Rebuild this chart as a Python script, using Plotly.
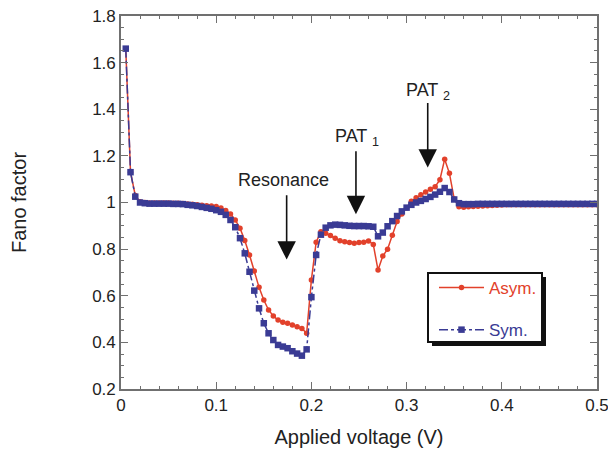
import plotly.graph_objects as go

# ---- data ----
voltage = [0.005, 0.010, 0.015, 0.020, 0.025, 0.030, 0.035, 0.040, 0.045, 0.050,
           0.055, 0.060, 0.065, 0.070, 0.075, 0.080, 0.085, 0.090, 0.095, 0.100,
           0.105, 0.110, 0.115, 0.120, 0.125, 0.130, 0.135, 0.140, 0.145, 0.150,
           0.155, 0.160, 0.165, 0.170, 0.175, 0.180, 0.185, 0.190, 0.195, 0.200,
           0.205, 0.210, 0.215, 0.220, 0.225, 0.230, 0.235, 0.240, 0.245, 0.250,
           0.255, 0.260, 0.265, 0.270, 0.275, 0.280, 0.285, 0.290, 0.295, 0.300,
           0.305, 0.310, 0.315, 0.320, 0.325, 0.330, 0.335, 0.340, 0.345, 0.350,
           0.355, 0.360, 0.365, 0.370, 0.375, 0.380, 0.385, 0.390, 0.395, 0.400,
           0.405, 0.410, 0.415, 0.420, 0.425, 0.430, 0.435, 0.440, 0.445, 0.450,
           0.455, 0.460, 0.465, 0.470, 0.475, 0.480, 0.485, 0.490, 0.495, 0.500]

fano_asym = [1.660, 1.130, 1.030, 1.003, 1.000, 0.998, 0.998, 0.998, 0.998, 0.998,
             0.997, 0.997, 0.996, 0.994, 0.992, 0.990, 0.988, 0.986, 0.985, 0.983,
             0.976, 0.966, 0.951, 0.925, 0.890, 0.837, 0.775, 0.706, 0.636, 0.582,
             0.539, 0.513, 0.496, 0.486, 0.482, 0.475, 0.467, 0.460, 0.439, 0.668,
             0.830, 0.875, 0.868, 0.858, 0.847, 0.836, 0.832, 0.828, 0.825, 0.828,
             0.830, 0.835, 0.820, 0.710, 0.770, 0.800, 0.860, 0.918, 0.951, 0.978,
             1.005, 1.020, 1.033, 1.045, 1.057, 1.068, 1.098, 1.186, 1.125, 1.015,
             0.982, 0.980, 0.982, 0.983, 0.984, 0.985, 0.986, 0.987, 0.988, 0.989,
             0.990, 0.990, 0.990, 0.990, 0.990, 0.990, 0.990, 0.990, 0.990, 0.990,
             0.990, 0.990, 0.990, 0.990, 0.990, 0.990, 0.990, 0.990, 0.990, 0.990]

fano_sym = [1.660, 1.130, 1.025, 1.000, 0.997, 0.995, 0.995, 0.995, 0.995, 0.995,
            0.994, 0.994, 0.993, 0.990, 0.988, 0.985, 0.981, 0.977, 0.973, 0.967,
            0.960, 0.947, 0.925, 0.894, 0.847, 0.782, 0.703, 0.622, 0.546, 0.482,
            0.439, 0.410, 0.389, 0.382, 0.375, 0.362, 0.352, 0.343, 0.370, 0.594,
            0.775, 0.862, 0.892, 0.902, 0.905, 0.904, 0.902, 0.900, 0.899, 0.899,
            0.899, 0.898, 0.896, 0.855, 0.871, 0.898, 0.920, 0.942, 0.962, 0.978,
            0.990, 1.000, 1.007, 1.015, 1.024, 1.034, 1.046, 1.062, 1.045, 1.013,
            0.997, 0.993, 0.993, 0.993, 0.994, 0.994, 0.994, 0.994, 0.994, 0.994,
            0.994, 0.994, 0.994, 0.994, 0.994, 0.994, 0.994, 0.994, 0.994, 0.994,
            0.994, 0.994, 0.994, 0.994, 0.994, 0.994, 0.994, 0.994, 0.994, 0.994]

series_names = ["Asym.", "Sym."]
x_ticks = [0, 0.1, 0.2, 0.3, 0.4, 0.5]

# annotations: label, arrow x, arrow tail y, arrow tip y, text position
arrow_labels = ["Resonance", "PAT <sub>1</sub>", "PAT <sub>2</sub>"]
arrow_x = [0.174, 0.2468, 0.3222]
arrow_tail = [1.037, 1.226, 1.433]
arrow_tip = [0.755, 0.950, 1.150]
label_x = [0.1703, 0.2475, 0.3225]
label_y = [1.097, 1.277, 1.476]

RED = "#e2412b"
BLUE = "#3a3b94"
AXC = "#707070"
TXT = "#222222"
FONT = "Liberation Sans, Arial, sans-serif"

fig = go.Figure()
fig.add_trace(go.Scatter(
    x=voltage, y=fano_asym, mode="lines+markers",
    name="<span style='color:%s'>%s</span>" % (RED, series_names[0]),
    legendgroup="a",
    line=dict(color=RED, width=1.5),
    marker=dict(symbol="circle", size=5.5, color=RED),
))
fig.add_trace(go.Scatter(
    x=voltage, y=fano_sym, mode="lines+markers",
    name="<span style='color:%s'>%s</span>" % (BLUE, series_names[1]),
    legendgroup="b",
    line=dict(color=BLUE, width=1.5, dash="dashdot"),
    marker=dict(symbol="square", size=6.5, color=BLUE),
))

# page body has an 8px default margin; compensate so the plot lands where the
# reference has it (plot area: x 121..597, y 16..389 in the 616x463 window)
OFF = 8
W, H = 616 - OFF, 463 - OFF
L, R, T, B = 121 - OFF, 19, 16 - OFF, 74
pw, ph = W - L - R, H - T - B


def px(xp):
    return (xp - OFF - L) / pw


def py(yp):
    return (H - B - (yp - OFF)) / ph


shapes = [
    # legend shadow and box
    dict(type="rect", xref="paper", yref="paper", x0=px(432), x1=px(546),
         y0=py(346), y1=py(277), fillcolor="#111111", line=dict(width=0), layer="above"),
    dict(type="rect", xref="paper", yref="paper", x0=px(428), x1=px(542),
         y0=py(342), y1=py(273), fillcolor="white", line=dict(color="#111111", width=2),
         layer="above"),
]

annotations = []
for i in range(3):
    annotations.append(dict(
        x=arrow_x[i], y=arrow_tip[i], ax=arrow_x[i], ay=arrow_tail[i],
        xref="x", yref="y", axref="x", ayref="y", text="", showarrow=True,
        arrowhead=2, arrowsize=2.3, arrowwidth=1.6, arrowcolor="#111111"))
    annotations.append(dict(
        x=label_x[i], y=label_y[i], xref="x", yref="y", text=arrow_labels[i],
        showarrow=False, font=dict(family=FONT, size=18, color=TXT)))

fig.update_layout(
    width=W, height=H,
    margin=dict(l=L, r=R, t=T, b=B, pad=0, autoexpand=False),
    paper_bgcolor="white", plot_bgcolor="white",
    font=dict(family=FONT, size=17, color=TXT),
    showlegend=True,
    legend=dict(x=px(434), y=py(270), xanchor="left", yanchor="top",
                bgcolor="rgba(0,0,0,0)", borderwidth=0,
                font=dict(family=FONT, size=17),
                tracegroupgap=17, itemwidth=45),
    shapes=shapes,
    annotations=annotations,
    xaxis=dict(range=[0, 0.5], tickvals=x_ticks, ticks="inside", ticklen=7,
               tickwidth=1.2, tickcolor=AXC, showline=True, linecolor=AXC,
               linewidth=1.6, mirror="ticks", showgrid=False, zeroline=False,
               automargin=False, ticklabeloverflow="allow",
               tickfont=dict(size=17, color=TXT),
               minor=dict(dtick=0.02, ticks="inside", ticklen=3.5, tickcolor=AXC,
                          tickwidth=1, showgrid=False),
               title=dict(text="Applied voltage (V)", font=dict(size=20, color=TXT),
                          standoff=16)),
    yaxis=dict(range=[0.2, 1.8], dtick=0.2, tick0=0.2, ticks="inside", ticklen=7,
               tickwidth=1.2, tickcolor=AXC, showline=True, linecolor=AXC,
               linewidth=1.6, mirror="ticks", showgrid=False, zeroline=False,
               automargin=False, ticklabeloverflow="allow",
               tickfont=dict(size=17, color=TXT),
               minor=dict(dtick=0.05, ticks="inside", ticklen=3.5, tickcolor=AXC,
                          tickwidth=1, showgrid=False),
               title=dict(text="Fano factor", font=dict(size=20, color=TXT),
                          standoff=61)),
)

fig.write_html("out.html")
